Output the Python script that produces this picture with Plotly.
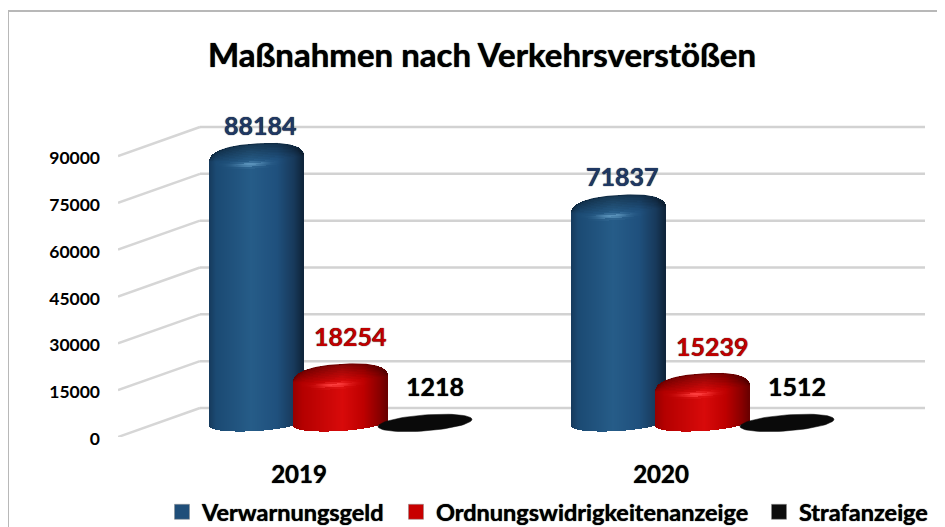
import math
import plotly.graph_objects as go

YEARS = ["2019", "2020"]
SERIES = ["Verwarnungsgeld", "Ordnungswidrigkeitenanzeige", "Strafanzeige"]
VERWARNUNG = [88184, 71837]
ORDNUNG = [18254, 15239]
STRAF = [1218, 1512]
Y_TICKS = [0, 15000, 30000, 45000, 60000, 75000, 90000]
TITLE = "Maßnahmen nach Verkehrsverstößen"

FONT = "Lato"
PAGE_MARGIN = 8  # the page's own body margin
W_FULL, H_FULL = 945, 527
W, H = W_FULL - PAGE_MARGIN, H_FULL - PAGE_MARGIN
PL, PR, PT, PB = 118, 925, 100, 437
PX_PER_K = 3.122
X0_PX, X_STEP = 299, 362


def val_px(px):  # pixel distance to value units
    return px * 1000 / PX_PER_K


def mix(a, b, t):
    t = max(0, min(1, t))
    return tuple(a[i] + (b[i] - a[i]) * t for i in range(3))


def rgb(c):
    return "rgb(%d,%d,%d)" % tuple(int(round(max(0, min(255, v)))) for v in c)


def ramp(stops, u):
    for (u0, c0), (u1, c1) in zip(stops, stops[1:]):
        if u <= u1:
            return mix(c0, c1, (u - u0) / (u1 - u0))
    return stops[-1][1]


BLUE = [(-1, (22, 58, 92)), (-0.85, (27, 74, 115)), (-0.1, (38, 92, 136)), (0.45, (31, 80, 125)),
        (0.8, (24, 58, 92)), (1, (15, 36, 58))]
RED = [(-1, (150, 0, 0)), (-0.8, (180, 0, 0)), (0.05, (216, 10, 10)), (0.5, (190, 0, 0)),
       (0.85, (135, 0, 0)), (1, (105, 0, 0))]
BLUE_HI = (92, 148, 188)
RED_HI = (255, 64, 64)

HALF_W = 47 / X_STEP
OFFSETS = [-0.117, 0.115, 0.348]
COLS = 94
ROWS = 14
FLOOR_VAL = val_px(437 - 423)
VAL_SCALE = 1.01
SHEAR = 3
B_UP, B_RIM = 15, 9
BOT_B, BOT_S = 8, 3


def arc(u, p=2.6):
    return max(0, 1 - abs(u) ** p) ** 0.46


def cylinder_traces(values, offset, stops, hi, name):
    xs, bases, hs, cols = [], [], [], []
    outline = []
    for g, v in enumerate(values):
        cx = g + offset
        c_val = v * VAL_SCALE
        line_x, line_y = [], []
        for i in range(COLS):
            u = (i + 0.5) / (COLS / 2) - 1
            x = cx + u * HALF_W
            body_col = ramp(stops, u)
            floor = FLOOR_VAL - val_px(BOT_B * math.sqrt(1 - u * u) - BOT_S * u)
            centre = c_val + val_px(SHEAR * u)
            rim = centre - val_px(B_RIM * arc(u))
            top = centre + val_px(B_UP * arc(u))
            xs.append(x); bases.append(floor); hs.append(rim - floor); cols.append(rgb(body_col))
            for r in range(ROWS):
                w0, w1 = r / ROWS, (r + 1) / ROWS
                w = (w0 + w1) / 2
                f = 0.62 + 0.38 * min(1, w / 0.7)
                col = tuple(ch * f for ch in body_col)
                hl = math.exp(-((u + 0.12) / 0.32) ** 2) * math.exp(-((w - 0.84) / 0.09) ** 2)
                col = mix(col, hi, hl)
                xs.append(x)
                bases.append(top + (rim - top) * w1)
                hs.append((rim - top) * (w0 - w1))
                cols.append(rgb(col))
            line_x.append(x); line_y.append(top)
        outline.append((line_x, line_y))
    traces = [go.Bar(x=xs, y=hs, base=bases, width=1.15 / X_STEP,
                     marker=dict(color=cols, line=dict(width=0)),
                     hoverinfo="skip", showlegend=False, name=name)]
    dark = rgb(mix(stops[1][1], (0, 0, 0), 0.4))
    for lx, ly in outline:
        traces.append(go.Scatter(x=lx, y=ly, mode="lines", line=dict(color=dark, width=1),
                                 hoverinfo="skip", showlegend=False))
    return traces


def disk_traces(values, offset, name):
    out = []
    for g, v in enumerate(values):
        cx = g + offset
        xs, ys = [], []
        for k in range(73):
            t = 2 * math.pi * k / 72
            xs.append(cx + HALF_W * math.cos(t))
            ys.append(FLOOR_VAL + v * 0.02 + val_px(8 * math.sin(t) + 3.5 * math.cos(t)))
        out.append(go.Scatter(x=xs, y=ys, mode="lines", fill="toself", fillcolor="#0a0a0a",
                              line=dict(color="#0a0a0a", width=0.5), hoverinfo="skip",
                              showlegend=False, name=name))
    return out


fig = go.Figure()
for t in cylinder_traces(VERWARNUNG, OFFSETS[0], BLUE, BLUE_HI, SERIES[0]):
    fig.add_trace(t)
for t in cylinder_traces(ORDNUNG, OFFSETS[1], RED, RED_HI, SERIES[1]):
    fig.add_trace(t)
for t in disk_traces(STRAF, OFFSETS[2], SERIES[2]):
    fig.add_trace(t)

# legend entries
LEG_PX = [162, 396, 759]
for i, (nm, col) in enumerate(zip(SERIES, ["#1f4e79", "#c80000", "#0d0d0d"])):
    key = "legend" if i == 0 else "legend%d" % (i + 1)
    fig.add_trace(go.Scatter(x=[None], y=[None], mode="markers", name=nm, legend=key,
                             marker=dict(symbol="square", size=15, color=col,
                                         line=dict(color="#8a8a8a", width=0.5))))

# floor/wall grid
x_front = (PL - X0_PX) / X_STEP
x_back = (200 - X0_PX) / X_STEP
x_right = (PR - X0_PX) / X_STEP
rise = val_px(29)
shapes = []
for v in Y_TICKS:
    shapes.append(dict(type="line", xref="x", yref="y", x0=x_front, y0=v, x1=x_back, y1=v + rise,
                       line=dict(color="#d6d6d6", width=2.5), layer="below"))
    shapes.append(dict(type="line", xref="x", yref="y", x0=x_back, y0=v + rise, x1=x_right, y1=v + rise,
                       line=dict(color="#d2d2d2", width=2.5), layer="below"))


def paper_x(px):
    return (px - PL) / (PR - PL)


def paper_y(px):
    return (PB - px) / (PB - PT)


for x0, y0, x1, y1 in [(8, 11, 945, 11), (8, 11, 8, 527)]:
    shapes.append(dict(type="line", xref="paper", yref="paper", x0=paper_x(x0), y0=paper_y(y0),
                       x1=paper_x(x1), y1=paper_y(y1), line=dict(color="#b8b8b8", width=2)))

# data labels
annos = []
LABEL_COL = ["#1f3864", "#c00000", "#000000"]
LABEL_SHIFT = [(3.5, 34), (10, 43), (10, 0)]
THICK = "0 0 1px currentColor"
for s, vals in enumerate([VERWARNUNG, ORDNUNG, STRAF]):
    for g, v in enumerate(vals):
        yv = v * VAL_SCALE if s < 2 else FLOOR_VAL
        dy = LABEL_SHIFT[s][1] if s < 2 else 37
        annos.append(dict(x=g + OFFSETS[s], y=yv, xref="x", yref="y", text=str(v), showarrow=False,
                          xshift=LABEL_SHIFT[s][0], yshift=dy, xanchor="center", yanchor="middle",
                          font=dict(family=FONT, size=25, color=LABEL_COL[s], weight=700, shadow=THICK)))

layout_legends = {}
for i, px in enumerate(LEG_PX):
    key = "legend" if i == 0 else "legend%d" % (i + 1)
    layout_legends[key] = dict(x=paper_x(px), y=paper_y(512), xanchor="left", yanchor="middle",
                               orientation="h", bgcolor="rgba(0,0,0,0)", itemclick=False,
                               font=dict(family=FONT, size=23.5, color="#000000", weight=700, shadow=THICK))

fig.update_layout(
    width=W, height=H, paper_bgcolor="white", plot_bgcolor="white",
    margin=dict(l=PL - PAGE_MARGIN, r=W_FULL - PR, t=PT - PAGE_MARGIN, b=H_FULL - PB, autoexpand=False),
    barmode="overlay", bargap=0,
    title=dict(text=TITLE, x=(482 - PAGE_MARGIN) / W, xref="container", xanchor="center",
               y=1 - (55 - PAGE_MARGIN) / H, yref="container", yanchor="middle",
               font=dict(family=FONT, size=33, color="#000000", weight=700, shadow=THICK)),
    xaxis=dict(range=[x_front, x_right], tickmode="array", tickvals=[0, 1], ticktext=YEARS,
               showgrid=False, zeroline=False, showline=False, ticks="", ticklabelstandoff=21,
               tickfont=dict(family=FONT, size=24, color="#000000", weight=700, shadow=THICK)),
    yaxis=dict(range=[0, val_px(PB - PT)], tickmode="array", tickvals=Y_TICKS,
               ticktext=[str(v) for v in Y_TICKS], showgrid=False, zeroline=False, showline=False,
               ticks="", ticklabelstandoff=17, ticklabelshift=2,
               tickfont=dict(family=FONT, size=17.5, color="#000000", weight=700)),
    shapes=shapes, annotations=annos, **layout_legends,
)
fig.write_html("out.html")
